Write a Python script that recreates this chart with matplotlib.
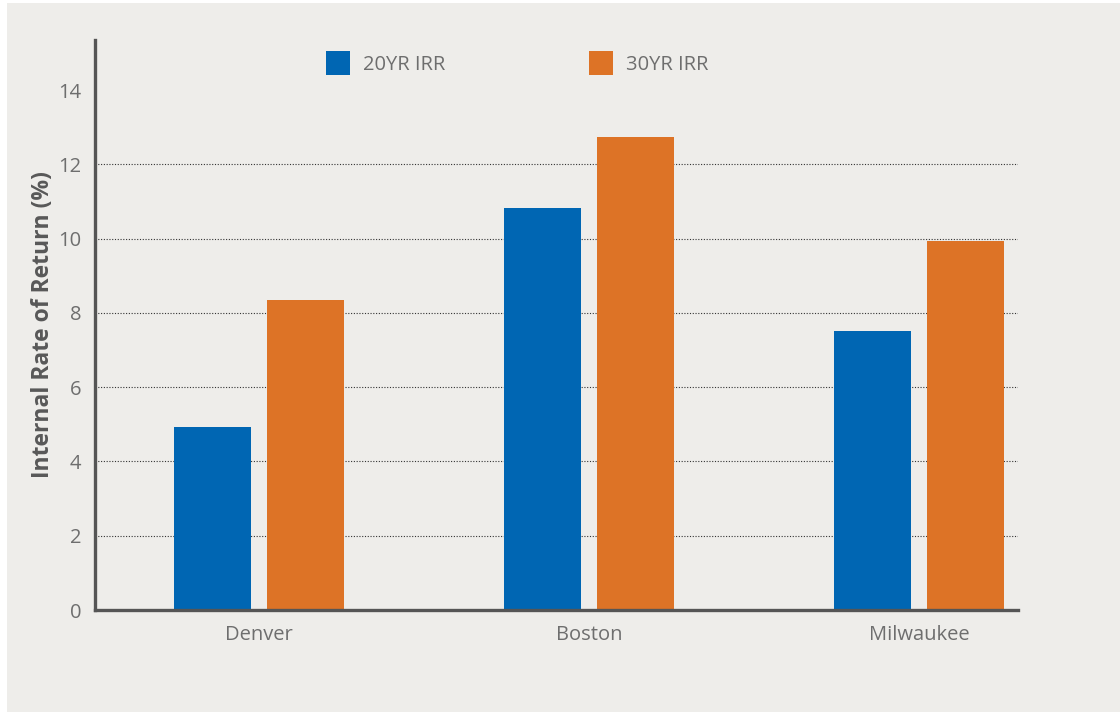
import matplotlib.pyplot as plt
import matplotlib.patches as mpatches
import numpy as np

cities = ["Denver", "Boston", "Milwaukee"]
irr_20 = [4.93, 10.82, 7.51]
irr_30 = [8.34, 12.73, 9.93]
y_ticks = [0, 2, 4, 6, 8, 10, 12, 14]

BLUE = "#0066b3"
ORANGE = "#dd7326"
BG = "#eeedea"
TXT = "#6e6e6e"

plt.rcParams["font.family"] = ["Open Sans", "DejaVu Sans"]

fig = plt.figure(figsize=(11.2, 7.12), dpi=100, facecolor="white")
# светло-серая подложка, с тонкой белой полосой слева и сверху
fig.patches.append(mpatches.Rectangle((7 / 1120, 0), 1, 1 - 3 / 712,
                                      transform=fig.transFigure,
                                      facecolor=BG, edgecolor="none", zorder=-10))

ax = fig.add_axes([95 / 1120, 1 - 610 / 712, (1018 - 95) / 1120, (610 - 40) / 712])
ax.set_facecolor("none")

x = np.arange(len(cities))
w = 0.233
off = 0.141
ax.bar(x - off, irr_20, width=w, color=BLUE, label="20YR IRR", zorder=3)
ax.bar(x + off, irr_30, width=w, color=ORANGE, label="30YR IRR", zorder=3)

ax.set_xlim(-0.497, 2.3)
ax.set_ylim(0, 15.35)
ax.set_yticks(y_ticks)
ax.set_xticks(x)
ax.set_xticklabels(cities)

for g in y_ticks[1:-1]:
    ax.axhline(g, color="#333333", linestyle=(0, (1, 1.5)), linewidth=0.8, zorder=1)

for s in ["top", "right"]:
    ax.spines[s].set_visible(False)
for s in ["left", "bottom"]:
    ax.spines[s].set_color("#555555")
    ax.spines[s].set_linewidth(2.4)
    ax.spines[s].set_zorder(4)

ax.tick_params(axis="y", length=0, pad=10, labelsize=14.5, labelcolor=TXT)
ax.tick_params(axis="x", length=0, pad=11, labelsize=14.5, labelcolor=TXT)

ax.set_ylabel("Internal Rate of Return (%)", fontsize=16.5, fontweight="bold",
              color="#585858", labelpad=2)

leg = ax.legend(loc="upper left", bbox_to_anchor=(0.2416, 0.9947), ncol=2,
                frameon=False, fontsize=14.5, handlelength=1.19, handleheight=1.455,
                handletextpad=0.65, columnspacing=7.15, borderaxespad=0)
for t in leg.get_texts():
    t.set_color(TXT)

fig.savefig("out.png", dpi=100)
